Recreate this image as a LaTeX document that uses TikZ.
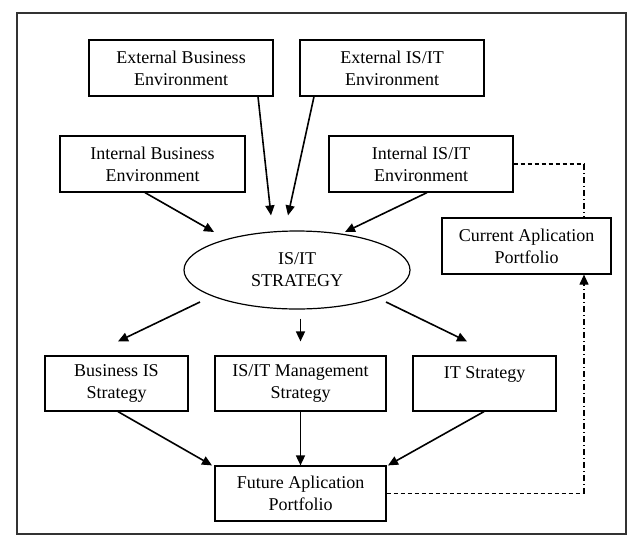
\documentclass[tikz,border=0pt]{standalone}
\usepackage{fontspec}
\setmainfont{Liberation Serif}
\usetikzlibrary{shapes.geometric,arrows.meta}
\begin{document}
\begin{tikzpicture}[x=1pt,y=-1pt,
  box/.style={draw,line width=1.2pt,rectangle,align=center,inner sep=0pt,
    font=\fontsize{18}{22}\selectfont,minimum height=55pt},
  conn/.style={line width=1.6pt,-{Triangle[length=10pt,width=9pt]}},
  dsh/.style={line width=1.1pt,dash pattern=on 4pt off 3pt},
  dshd/.style={line width=1.1pt,dash pattern=on 6pt off 3pt on 1pt off 3pt}]
\useasboundingbox (0,0) rectangle (640,547);
\node[draw,line width=1.3pt,draw=black!80,minimum width=609pt,minimum height=521pt,inner sep=0pt] (frame) at (321.5,273.5) {};
\node[box,minimum width=184pt,minimum height=56pt] (extB) at (181,68) {External Business\\Environment};
\node[box,minimum width=184pt,minimum height=56pt] (extI) at (392,68) {External IS/IT\\Environment};
\node[box,minimum width=185pt,minimum height=56pt] (intB) at (152.5,164) {Internal Business\\Environment};
\node[box,minimum width=184pt,minimum height=56pt] (intI) at (421,164) {Internal IS/IT\\Environment};
\node[draw,line width=1.2pt,ellipse,inner sep=0pt,minimum width=226pt,minimum height=78pt,align=center,
  font=\fontsize{18}{22}\selectfont] (strat) at (297,270) {IS/IT\\STRATEGY};
\node[box,minimum width=169pt,minimum height=56pt] (cur) at (526.5,246) {Current Aplication\\Portfolio};
\node[box,minimum width=143pt] (bis) at (116.5,383.5) {Business IS\\Strategy};
\node[box,minimum width=171pt] (mgmt) at (300.5,383.5) {IS/IT Management\\Strategy};
\node[box,minimum width=143pt] (its) at (484.5,383.5) {IT Strategy\\\mbox{}};
\node[box,minimum width=171pt] (fut) at (300.5,493.5) {Future Aplication\\Portfolio};
\coordinate (c1) at (584,164);
\coordinate (c2) at (584,493.5);
% inputs
\draw[conn] ([xshift=77pt]extB.south) -- ([xshift=-26pt,yshift=15pt]strat.north);
\draw[conn] ([xshift=-78pt]extI.south) -- ([xshift=-9pt,yshift=15pt]strat.north);
\draw[conn] ([xshift=-7.5pt]intB.south) -- ([xshift=-83pt,yshift=38pt]strat.center);
\draw[conn] ([xshift=6pt]intI.south) -- ([xshift=48pt,yshift=38pt]strat.center);
% outputs
\draw[conn] ([xshift=-97pt,yshift=-32pt]strat.center) -- ([xshift=1.5pt,yshift=14pt]bis.north);
\draw[conn] ([yshift=-9pt]mgmt.north |- strat.south) -- ([yshift=14pt]mgmt.north);
\draw[conn] ([xshift=89pt,yshift=-32pt]strat.center) -- ([xshift=-17.5pt,yshift=14pt]its.north);
% to future
\draw[conn] ([xshift=1.5pt]bis.south) -- ([xshift=-88.5pt]fut.north);
\draw[conn] (mgmt.south) -- (fut.north);
\draw[conn] ([xshift=-0.5pt]its.south) -- ([xshift=87.5pt]fut.north);
% feedback
\draw[dsh] (intI.east) -- (c1);
\draw[dshd] (c1) -- (c1 |- cur.north);
\draw[dsh] (fut.east) -- (c2);
\draw[dshd,-{Triangle[length=10pt,width=9pt]}] (c2) -- (c2 |- cur.south);
\end{tikzpicture}
\end{document}
